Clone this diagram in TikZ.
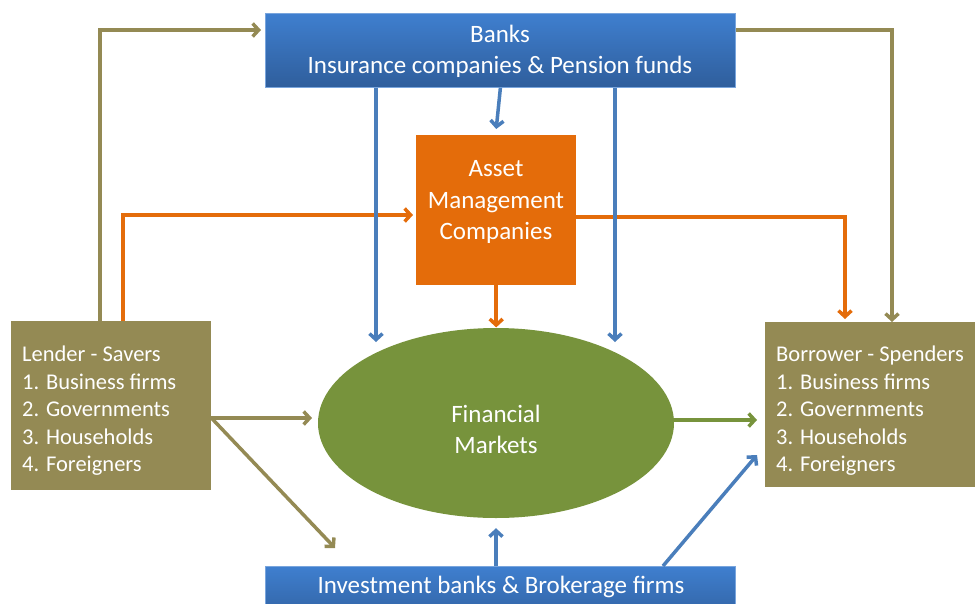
\documentclass[tikz,border=0pt]{standalone}
\usepackage{fontspec}
\setmainfont{Carlito}
\usetikzlibrary{arrows.meta,calc,shapes.geometric}
\definecolor{olive}{HTML}{948A54}
\definecolor{orng}{HTML}{E46C0A}
\definecolor{bluel}{HTML}{4A7EBB}
\definecolor{grn}{HTML}{77933C}
\definecolor{btop}{HTML}{3F7FCF}
\definecolor{bbot}{HTML}{2F5E9C}
\tikzset{
  txt/.style={font=\fontsize{25}{31.5}\selectfont, text=white, inner sep=0pt},
  listtxt/.style={font=\fontsize{22.5}{27.5}\selectfont, text=white, align=left, inner sep=0pt},
  bluebox/.style={rectangle, top color=btop, bottom color=bbot, draw=btop!70!white, line width=0.8pt, inner sep=0pt},
  orbox/.style={rectangle, fill=orng, inner sep=0pt},
  olbox/.style={rectangle, fill=olive, inner sep=0pt},
  conn/.style={line width=3.5pt, -{Straight Barb[length=6pt,width=13pt]}},
}
\begin{document}
\begin{tikzpicture}[x=1pt,y=-1pt]
\useasboundingbox (0,0) rectangle (975,603);
% boxes
\node[bluebox, minimum width=470, minimum height=74, anchor=north west] (banks) at (265,13) {};
\node[txt, align=center] (bankstxt) at (500,51.5) {Banks\\Insurance companies \& Pension funds};
\node[orbox, minimum width=160, minimum height=150, anchor=north west] (amc) at (416,135) {};
\node[txt, align=center] (amctxt) at (496,202) {Asset\\Management\\Companies};
\node[olbox, minimum width=200, minimum height=169, anchor=north west] (lender) at (11,321) {};
\node[listtxt, anchor=west] (lendertxt) at (22,411) {Lender - Savers\\1. Business firms\\2. Governments\\3. Households\\4. Foreigners};
\node[olbox, minimum width=225, minimum height=165, anchor=north west] (borrower) at (765,322) {};
\node[listtxt, anchor=west] (borrowertxt) at (776,411) {Borrower - Spenders\\1. Business firms\\2. Governments\\3. Households\\4. Foreigners};
\node[ellipse, fill=grn, minimum width=356, minimum height=190, inner sep=0pt] (fm) at (496,423) {};
\node[txt, align=center] (fmtxt) at (496,429.5) {Financial\\Markets};
\node[bluebox, minimum width=470, minimum height=60, anchor=north west] (ib) at (265,566) {};
\node[txt] (ibtxt) at (501,587) {Investment banks \& Brokerage firms};
% connectors
\draw[conn, olive] (lender.north -| 100,0) |- ($(banks.north west)+(-4,17)$);
\draw[conn, olive] ($(banks.north east)+(0,17)$) -| (borrower.north -| 892,0);
\draw[conn, orng] (lender.north -| 123,0) |- ($(amc.west |- 0,215)+(-3,0)$);
\draw[conn, orng] (amc.east |- 0,217) -| ($(borrower.north -| 845,0)+(0,-3)$);
\draw[conn, orng] (amc.south) -- ($(amc.south)+(0,42)$);
\draw[conn, bluel] (banks.south) -- ($(amc.north)+(0,-6)$);
\draw[conn, bluel] (banks.south -| 376,0) -- (376,342);
\draw[conn, bluel] (banks.south -| 615,0) -- (615,342);
\draw[conn, olive] (lender.east |- 0,418) -- (312,418);
\draw[conn, olive] (lender.east |- 0,418) -- (335,548);
\draw[conn, grn] (fm.east |- 0,420) -- ($(borrower.west |- 0,420)+(-8,0)$);
\draw[conn, bluel] (ib.north -| 496,0) -- ($(fm.south)+(0,10)$);
\draw[conn, bluel] (ib.north -| 663,0) -- ($(borrower.west |- 0,455)+(-8,0)$);
\end{tikzpicture}
\end{document}
